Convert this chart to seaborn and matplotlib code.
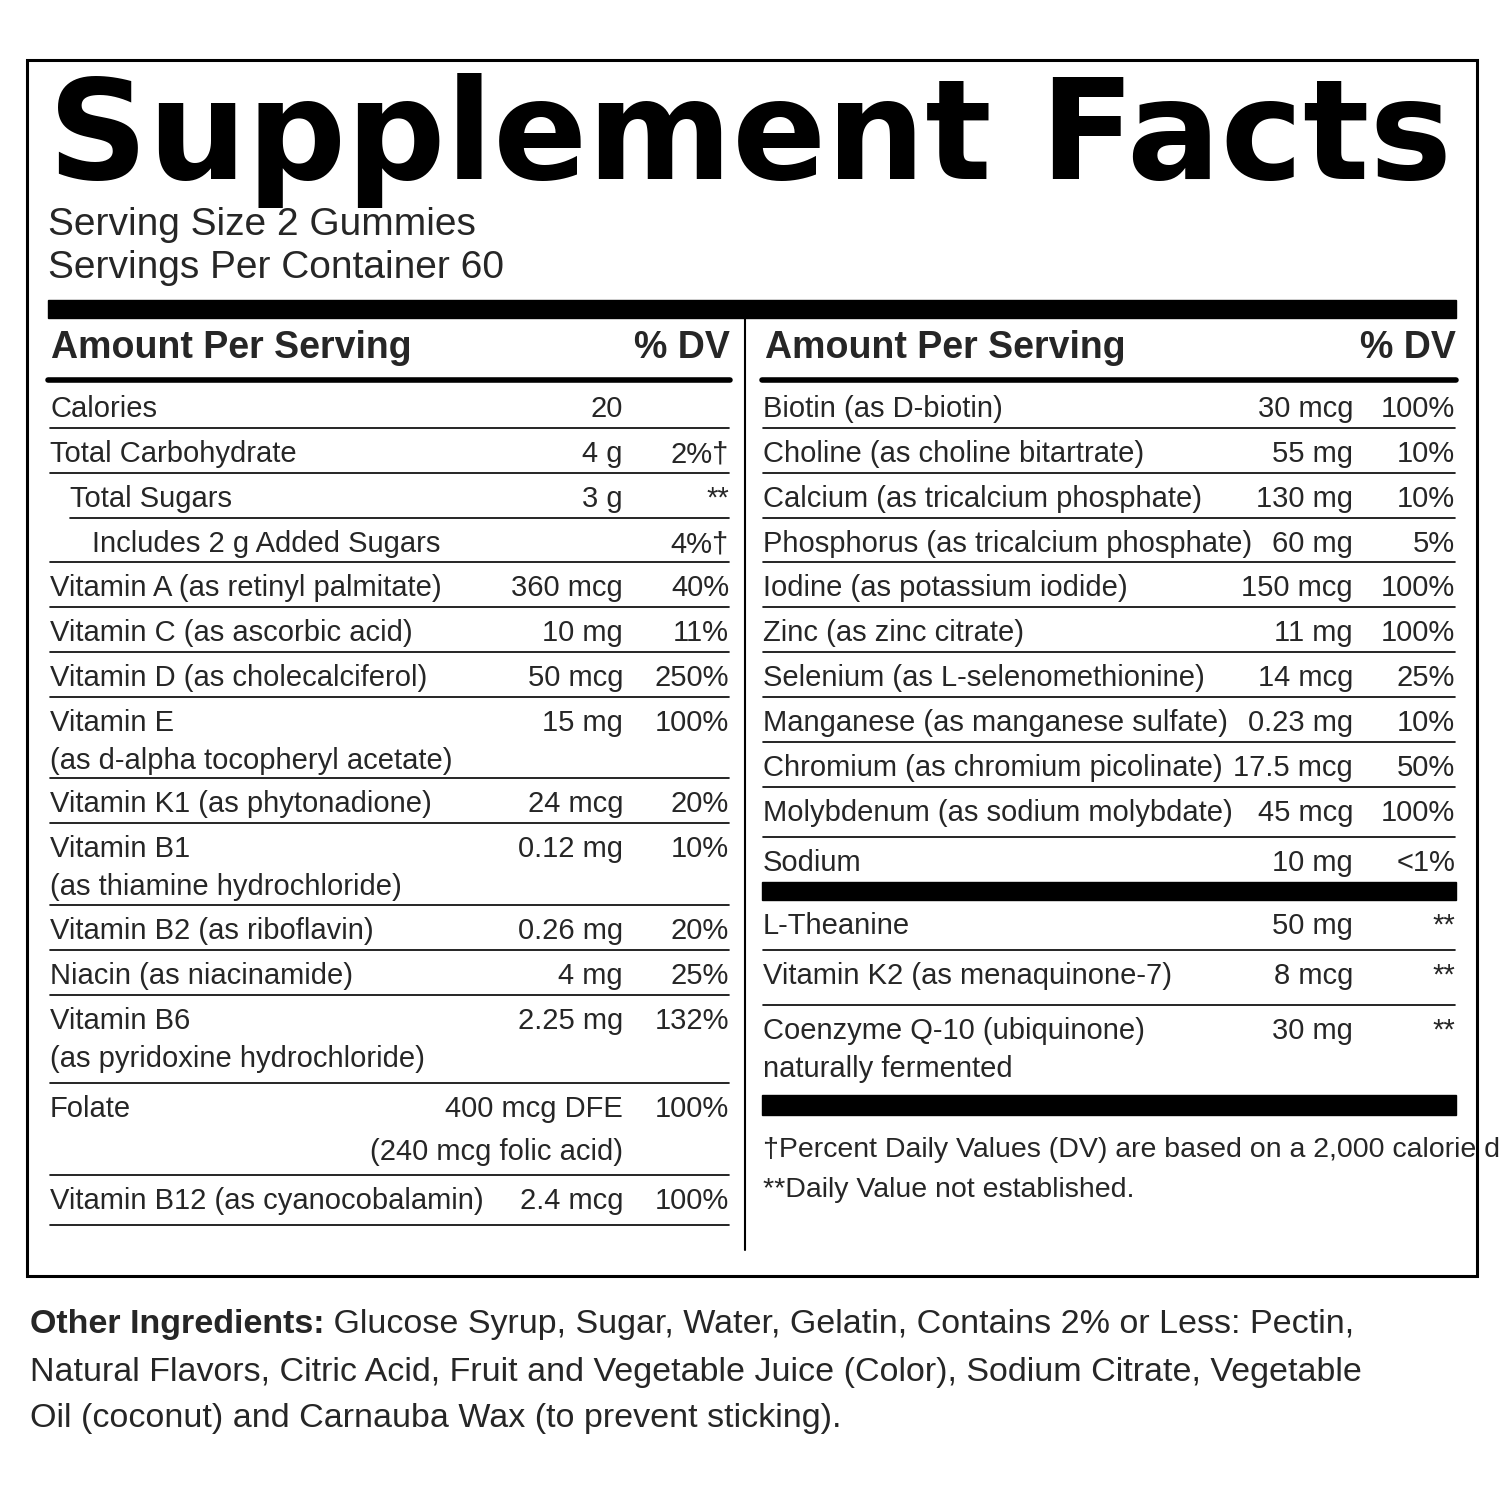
import matplotlib
matplotlib.use("Agg")
import matplotlib.pyplot as plt
import seaborn as sns
from matplotlib import font_manager

sns.set_theme(style="white")
names = {f.name for f in font_manager.fontManager.ttflist}
NARROW = "Liberation Sans Narrow" if "Liberation Sans Narrow" in names else "Liberation Sans"
plt.rcParams["font.family"] = [NARROW, "DejaVu Sans"]

# data
title = "Supplement Facts"
serving = ["Serving Size 2 Gummies", "Servings Per Container 60"]

left_names = ["Calories", "Total Carbohydrate", "Total Sugars", "Includes 2 g Added Sugars",
              "Vitamin A (as retinyl palmitate)", "Vitamin C (as ascorbic acid)",
              "Vitamin D (as cholecalciferol)", "Vitamin E\n(as d-alpha tocopheryl acetate)",
              "Vitamin K1 (as phytonadione)", "Vitamin B1\n(as thiamine hydrochloride)",
              "Vitamin B2 (as riboflavin)", "Niacin (as niacinamide)",
              "Vitamin B6\n(as pyridoxine hydrochloride)", "Folate",
              "Vitamin B12 (as cyanocobalamin)"]
left_amounts = ["20", "4 g", "3 g", "", "360 mcg", "10 mg", "50 mcg", "15 mg", "24 mcg",
                "0.12 mg", "0.26 mg", "4 mg", "2.25 mg", "400 mcg DFE\n(240 mcg folic acid)", "2.4 mcg"]
left_dv = ["", "2%\u2020", "**", "4%\u2020", "40%", "11%", "250%", "100%", "20%", "10%",
           "20%", "25%", "132%", "100%", "100%"]
left_indent = [0, 0, 20, 42, 0, 0, 0, 0, 0, 0, 0, 0, 0, 0, 0]
left_heights = [45, 45, 45, 44, 45, 45, 45, 81, 45, 82, 45, 45, 88, 92, 50]

right_names = ["Biotin (as D-biotin)", "Choline (as choline bitartrate)",
               "Calcium (as tricalcium phosphate)", "Phosphorus (as tricalcium phosphate)",
               "Iodine (as potassium iodide)", "Zinc (as zinc citrate)",
               "Selenium (as L-selenomethionine)", "Manganese (as manganese sulfate)",
               "Chromium (as chromium picolinate)", "Molybdenum (as sodium molybdate)", "Sodium"]
right_amounts = ["30 mcg", "55 mg", "130 mg", "60 mg", "150 mcg", "11 mg", "14 mcg",
                 "0.23 mg", "17.5 mcg", "45 mcg", "10 mg"]
right_dv = ["100%", "10%", "10%", "5%", "100%", "100%", "25%", "10%", "50%", "100%", "<1%"]
right_heights = [45, 45, 45, 44, 45, 45, 45, 45, 45, 50, 45]

other_names = ["L-Theanine", "Vitamin K2 (as menaquinone-7)", "Coenzyme Q-10 (ubiquinone)\nnaturally fermented"]
other_amounts = ["50 mg", "8 mcg", "30 mg"]
other_dv = ["**", "**", "**"]
other_heights = [50, 55, 90]

footnotes = ["\u2020Percent Daily Values (DV) are based on a 2,000 calorie diet.",
             "**Daily Value not established."]
ingredients_label = "Other Ingredients:"
ingredients = [" Glucose Syrup, Sugar, Water, Gelatin, Contains 2% or Less: Pectin,",
               "Natural Flavors, Citric Acid, Fruit and Vegetable Juice (Color), Sodium Citrate, Vegetable",
               "Oil (coconut) and Carnauba Wax (to prevent sticking)."]

FS = 21
fig = plt.figure(figsize=(15, 15), dpi=100)
ax = fig.add_axes([0, 0, 1, 1])
ax.set_xlim(0, 1500)
ax.set_ylim(1500, 0)
ax.axis("off")

ax.add_patch(plt.Rectangle((27, 60), 1450, 1216, fill=False, lw=2.2, ec="black"))
ax.text(750, 140, title, ha="center", va="center", fontsize=100, fontweight="bold",
        family=["DejaVu Sans"], color="black")
ax.text(48, 207, serving[0], fontsize=28, va="top")
ax.text(48, 250, serving[1], fontsize=28, va="top")
ax.add_patch(plt.Rectangle((48, 300), 1408, 18, color="black"))
ax.plot([745, 745], [318, 1250], color="black", lw=1.5)

for x0, x1 in [(48, 730), (762, 1456)]:
    ax.text(x0 + 3, 348, "Amount Per Serving", fontsize=27, fontweight="bold", va="center")
    ax.text(x1, 348, "% DV", fontsize=27, fontweight="bold", va="center", ha="right")
    ax.plot([x0, x1], [380, 380], color="black", lw=4)


def draw_rows(names_, amounts, dvs, heights, y, x0, xa, x1, indents=None, last_line=True):
    for i, (n, a, d, h) in enumerate(zip(names_, amounts, dvs, heights)):
        ind = indents[i] if indents else 0
        ax.text(x0 + ind, y + 12, n, fontsize=FS, va="top", linespacing=1.45)
        ax.text(xa, y + 12, a, fontsize=FS, va="top", ha="right", linespacing=1.7)
        ax.text(x1, y + 12, d, fontsize=FS, va="top", ha="right")
        y += h
        if i < len(names_) - 1 or last_line:
            nxt = indents[i + 1] if indents and i + 1 < len(indents) else 0
            ax.plot([x0 + min(ind, nxt) if indents else x0, x1], [y, y], color="black", lw=1.2)
    return y


draw_rows(left_names, left_amounts, left_dv, left_heights, 383, 50, 623, 729, left_indent)
draw_rows(right_names, right_amounts, right_dv, right_heights, 383, 763, 1353, 1455, last_line=False)
ax.add_patch(plt.Rectangle((762, 882), 694, 18, color="black"))
draw_rows(other_names, other_amounts, other_dv, other_heights, 900, 763, 1353, 1455, last_line=False)
ax.add_patch(plt.Rectangle((762, 1095), 694, 20, color="black"))
ax.text(763, 1137, footnotes[0], fontsize=20.5, va="top")
ax.text(763, 1177, footnotes[1], fontsize=20.5, va="top")

IFS = 24.5
lab = ax.text(30, 1325, ingredients_label, fontsize=IFS, fontweight="bold", va="center")
fig.canvas.draw()
bb = lab.get_window_extent()
ax.annotate(ingredients[0], xy=(1, 0.5), xycoords=lab, va="center", fontsize=IFS)
ax.text(30, 1372, ingredients[1], fontsize=IFS, va="center")
ax.text(30, 1418, ingredients[2], fontsize=IFS, va="center")

fig.savefig("out.png", dpi=100, facecolor="white")
